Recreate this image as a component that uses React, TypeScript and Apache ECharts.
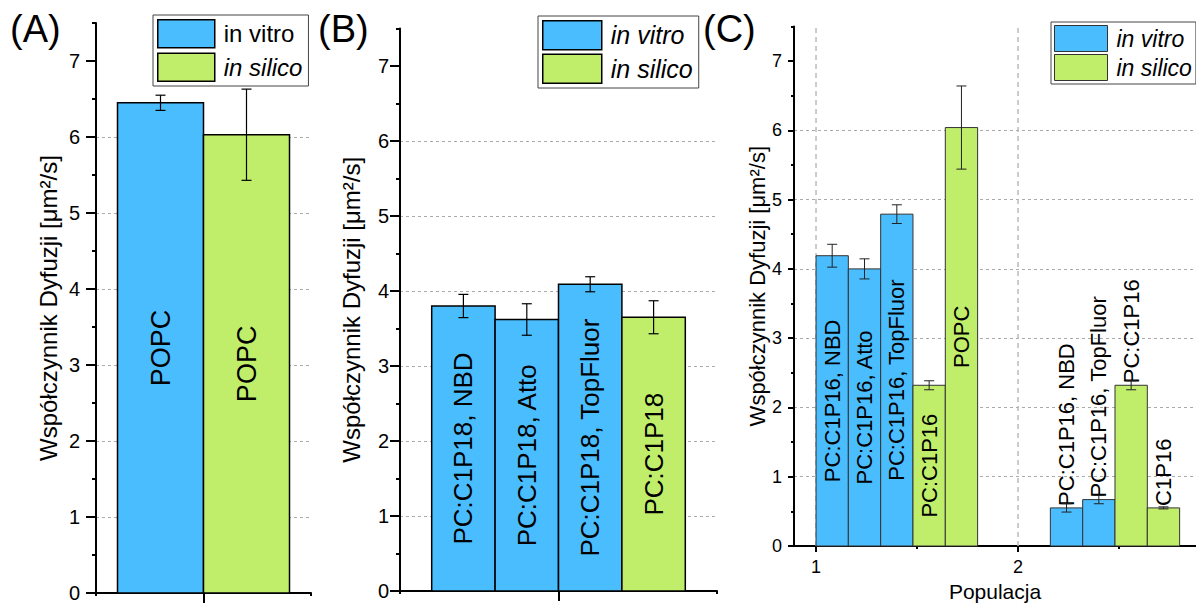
import React, { useEffect, useRef } from 'react';
import * as echarts from 'echarts';

// ---------- data ----------
const SERIES_NAMES = ['in vitro', 'in silico'];

// Panel A
const A_VITRO_X = [0.8];
const A_VITRO_VAL = [6.45];
const A_VITRO_ERR = [0.1];
const A_VITRO_LABELS = ['POPC'];
const A_SILICO_X = [1.2];
const A_SILICO_VAL = [6.03];
const A_SILICO_ERR = [0.6];
const A_SILICO_LABELS = ['POPC'];

// Panel B
const B_VITRO_X = [0.7, 0.9, 1.1];
const B_VITRO_VAL = [3.8, 3.62, 4.09];
const B_VITRO_ERR = [0.155, 0.21, 0.1];
const B_VITRO_LABELS = ['PC:C1P18, NBD', 'PC:C1P18, Atto', 'PC:C1P18, TopFluor'];
const B_SILICO_X = [1.3];
const B_SILICO_VAL = [3.65];
const B_SILICO_ERR = [0.22];
const B_SILICO_LABELS = ['PC:C1P18'];

// Panel C
const C_VITRO_X = [1.08, 1.24, 1.4, 2.24, 2.4];
const C_VITRO_VAL = [4.19, 4.0, 4.79, 0.55, 0.67];
const C_VITRO_ERR = [0.165, 0.145, 0.135, 0.06, 0.06];
const C_VITRO_LABELS = ['PC:C1P16, NBD', 'PC:C1P16, Atto', 'PC:C1P16, TopFluor', 'PC:C1P16, NBD', 'PC:C1P16, TopFluor'];
const C_SILICO_X = [1.56, 1.72, 2.56, 2.72];
const C_SILICO_VAL = [2.32, 6.04, 2.32, 0.55];
const C_SILICO_ERR = [0.065, 0.6, 0.065, 0.015];
const C_SILICO_LABELS = ['PC:C1P16', 'POPC', 'PC:C1P16', 'C1P16'];

// ticks
const Y_MAJOR = [0, 1, 2, 3, 4, 5, 6, 7];
const Y_MINOR = [0.5, 1.5, 2.5, 3.5, 4.5, 5.5, 6.5, 7.5];
const AB_X_MAJOR = [1];
const AB_X_MINOR = [0.5, 1.5];
const C_X_MAJOR = [1, 2];
const C_X_MINOR = [1.5, 2.5];
const Y_TITLE = 'Współczynnik Dyfuzji [μm²/s]';
const C_X_TITLE = 'Populacja';
const PANEL_LETTERS = ['(A)', '(B)', '(C)'];

// ---------- styles ----------
const FONT = '"Liberation Sans", Arial, Helvetica, sans-serif';
const BLUE = '#4ABDFE';
const GREEN = '#C1EE6A';
const Y_MIN = 0;
const Y_MAX = 7.5;

type BarCfg = {
  width: number;
  color: string;
  border: string;
  borderWidth: number;
  errColor: string;
  errWidth: number;
  cap: number;
  labelSize: number;
  labelAbove?: (x: number) => boolean;
};

function barSeries(name: string, axisIdx: number, xs: number[], vals: number[], errs: number[], labels: string[], cfg: BarCfg) {
  return {
    type: 'custom',
    name,
    xAxisIndex: axisIdx,
    yAxisIndex: axisIdx,
    data: xs.map((x, i) => [x, vals[i], errs[i]]),
    encode: { x: 0, y: 1 },
    itemStyle: { color: cfg.color },
    clip: false,
    z: 3,
    renderItem: (params: any, api: any) => {
      const i = params.dataIndex;
      const x = api.value(0);
      const v = api.value(1);
      const e = api.value(2);
      const tl = api.coord([x - cfg.width / 2, v]);
      const br = api.coord([x + cfg.width / 2, 0]);
      const hi = api.coord([x, v + e]);
      const lo = api.coord([x, v - e]);
      const cx = (tl[0] + br[0]) / 2;
      const above = cfg.labelAbove ? cfg.labelAbove(x) : false;
      const errStyle = { stroke: cfg.errColor, lineWidth: cfg.errWidth };
      return {
        type: 'group',
        children: [
          {
            type: 'rect',
            shape: { x: tl[0], y: tl[1], width: br[0] - tl[0], height: br[1] - tl[1] },
            style: { fill: cfg.color, stroke: cfg.border, lineWidth: cfg.borderWidth },
          },
          {
            type: 'text',
            x: cx,
            y: above ? tl[1] - 2 : (tl[1] + br[1]) / 2,
            rotation: Math.PI / 2,
            style: {
              text: labels[i],
              fontSize: cfg.labelSize,
              fontFamily: FONT,
              fill: '#000',
              align: above ? 'left' : 'center',
              verticalAlign: 'middle',
            },
          },
          { type: 'line', shape: { x1: cx, y1: hi[1], x2: cx, y2: lo[1] }, style: errStyle },
          { type: 'line', shape: { x1: cx - cfg.cap, y1: hi[1], x2: cx + cfg.cap, y2: hi[1] }, style: errStyle },
          { type: 'line', shape: { x1: cx - cfg.cap, y1: lo[1], x2: cx + cfg.cap, y2: lo[1] }, style: errStyle },
        ],
      };
    },
  };
}

function yAxes(gridIndex: number, o: { major: number; minor: number; labelSize: number; margin: number; nameSize: number; nameGap: number }) {
  return [
    {
      type: 'value',
      gridIndex,
      min: Y_MIN,
      max: Y_MAX,
      interval: 1,
      position: 'left',
      axisLine: { show: true, onZero: false, lineStyle: { color: '#000', width: 2 } },
      axisTick: { show: true, customValues: Y_MAJOR, length: o.major, lineStyle: { color: '#000', width: 2 } },
      axisLabel: { show: true, customValues: Y_MAJOR, fontSize: o.labelSize, color: '#000', fontFamily: FONT, margin: o.margin },
      splitLine: { show: true, showMinLine: false, showMaxLine: false, lineStyle: { color: '#aaa', width: 1, type: [3, 3] } },
      name: Y_TITLE,
      nameLocation: 'middle',
      nameGap: o.nameGap,
      nameTextStyle: { fontSize: o.nameSize, color: '#000', fontFamily: FONT },
    },
    {
      type: 'value',
      gridIndex,
      min: Y_MIN,
      max: Y_MAX,
      interval: 0.5,
      position: 'left',
      axisLine: { show: false },
      axisTick: { show: true, customValues: Y_MINOR, length: o.minor, lineStyle: { color: '#000', width: 2 } },
      axisLabel: { show: false },
      splitLine: { show: false },
    },
  ];
}

function xAxesAB(gridIndex: number) {
  return [
    {
      type: 'value',
      gridIndex,
      min: 0.5,
      max: 1.5,
      interval: 0.5,
      position: 'bottom',
      axisLine: { show: true, onZero: false, lineStyle: { color: '#000', width: 2 } },
      axisTick: { show: true, customValues: AB_X_MAJOR, length: 10, lineStyle: { color: '#000', width: 2 } },
      axisLabel: { show: false },
      splitLine: { show: false },
    },
    {
      type: 'value',
      gridIndex,
      min: 0.5,
      max: 1.5,
      interval: 0.5,
      position: 'bottom',
      axisLine: { show: false },
      axisTick: { show: true, customValues: AB_X_MINOR, length: 3, lineStyle: { color: '#000', width: 2 } },
      axisLabel: { show: false },
      splitLine: { show: false },
    },
  ];
}

function xAxesC(gridIndex: number) {
  const min = 0.891;
  const max = 2.881;
  return [
    {
      type: 'value',
      gridIndex,
      min,
      max,
      position: 'bottom',
      axisLine: { show: true, onZero: false, lineStyle: { color: '#000', width: 2 } },
      axisTick: { show: true, customValues: C_X_MAJOR, length: 6, lineStyle: { color: '#000', width: 2 } },
      axisLabel: { show: true, customValues: C_X_MAJOR, fontSize: 18, color: '#000', fontFamily: FONT, margin: 12 },
      splitLine: { show: false },
      name: C_X_TITLE,
      nameLocation: 'middle',
      nameGap: 34,
      nameTextStyle: { fontSize: 21, color: '#000', fontFamily: FONT },
    },
    {
      type: 'value',
      gridIndex,
      min,
      max,
      position: 'bottom',
      axisLine: { show: false },
      axisTick: { show: true, customValues: C_X_MINOR, length: 3, lineStyle: { color: '#000', width: 2 } },
      axisLabel: { show: false },
      splitLine: { show: false },
    },
  ];
}

function legend(left: number, top: number, iw: number, ih: number, gap: number, fs: number, vitroItalic: boolean, bw: number, bc: string, pad: number[]) {
  return {
    orient: 'vertical',
    left,
    top,
    itemWidth: iw,
    itemHeight: ih,
    itemGap: gap,
    icon: 'rect',
    selectedMode: false,
    borderColor: '#444',
    borderWidth: 1,
    padding: pad,
    backgroundColor: '#fff',
    itemStyle: { borderColor: bc, borderWidth: bw },
    textStyle: { fontSize: fs, fontFamily: FONT, color: '#000', fontStyle: 'italic', padding: [0, 0, 0, 4] },
    data: [
      {
        name: SERIES_NAMES[0],
        icon: 'rect',
        itemStyle: { color: BLUE, borderColor: bc, borderWidth: bw },
        textStyle: { fontStyle: vitroItalic ? 'italic' : 'normal', fontSize: fs, fontFamily: FONT, color: '#000' },
      },
      {
        name: SERIES_NAMES[1],
        icon: 'rect',
        itemStyle: { color: GREEN, borderColor: bc, borderWidth: bw },
        textStyle: { fontStyle: 'italic', fontSize: fs, fontFamily: FONT, color: '#000' },
      },
    ],
  };
}

export default function App() {
  const ref = useRef<HTMLDivElement>(null);
  useEffect(() => {
    if (!ref.current) return;
    const chart = echarts.init(ref.current, null, { renderer: 'svg' });
    const abCfg = (color: string, width: number, size: number): BarCfg => ({
      width,
      color,
      border: '#000',
      borderWidth: 1.5,
      errColor: '#000',
      errWidth: 1.2,
      cap: 5,
      labelSize: size,
    });
    const cCfg = (color: string): BarCfg => ({
      width: 0.16,
      color,
      border: '#333',
      borderWidth: 1,
      errColor: '#222',
      errWidth: 1,
      cap: 5,
      labelSize: 22,
      labelAbove: (x: number) => x >= 2,
    });

    const option: any = {
      animation: false,
      backgroundColor: '#fff',
      grid: [
        { left: 96, top: 23, width: 215, height: 570, outerBoundsMode: 'none' },
        { left: 400, top: 28.5, width: 317, height: 562.5, outerBoundsMode: 'none' },
        { left: 794, top: 26.4, width: 402, height: 519.6, outerBoundsMode: 'none' },
      ],
      xAxis: [...xAxesAB(0), ...xAxesAB(1), ...xAxesC(2)],
      yAxis: [
        ...yAxes(0, { major: 10, minor: 4, labelSize: 20, margin: 16, nameSize: 24, nameGap: 36 }),
        ...yAxes(1, { major: 10, minor: 4, labelSize: 20, margin: 11, nameSize: 24, nameGap: 37 }),
        ...yAxes(2, { major: 6, minor: 3, labelSize: 18, margin: 12, nameSize: 22, nameGap: 26 }),
      ],
      legend: [
        legend(153, 15, 57, 28, 4, 24, false, 1.5, '#000', [4, 6, 4, 4]),
        legend(538, 16, 59, 29, 3, 25, true, 1.5, '#000', [4, 6, 4, 4]),
        legend(1051, 22, 53, 26, 2, 23, true, 1, '#333', [3, 4, 3, 3]),
      ],
      graphic: [
        { type: 'text', left: 10, top: 10, style: { text: PANEL_LETTERS[0], fontSize: 38, fontFamily: FONT, fill: '#000' } },
        { type: 'text', left: 318, top: 10, style: { text: PANEL_LETTERS[1], fontSize: 38, fontFamily: FONT, fill: '#000' } },
        { type: 'text', left: 703, top: 10, style: { text: PANEL_LETTERS[2], fontSize: 38, fontFamily: FONT, fill: '#000' } },
      ],
      series: [
        {
          type: 'custom',
          name: 'grid-x',
          xAxisIndex: 4,
          yAxisIndex: 4,
          silent: true,
          z: 1,
          data: C_X_MAJOR.map((x) => [x, Y_MAX]),
          encode: { x: 0, y: 1 },
          renderItem: (p: any, api: any) => {
            const x = api.value(0);
            const a = api.coord([x, Y_MIN]);
            const b = api.coord([x, api.value(1)]);
            return {
              type: 'line',
              shape: { x1: a[0], y1: a[1], x2: b[0], y2: b[1] },
              style: { stroke: '#bbb', lineWidth: 1.5, lineDash: [5, 4] },
            };
          },
        },
        barSeries(SERIES_NAMES[0], 0, A_VITRO_X, A_VITRO_VAL, A_VITRO_ERR, A_VITRO_LABELS, abCfg(BLUE, 0.4, 27)),
        barSeries(SERIES_NAMES[1], 0, A_SILICO_X, A_SILICO_VAL, A_SILICO_ERR, A_SILICO_LABELS, abCfg(GREEN, 0.4, 27)),
        barSeries(SERIES_NAMES[0], 2, B_VITRO_X, B_VITRO_VAL, B_VITRO_ERR, B_VITRO_LABELS, abCfg(BLUE, 0.2, 26)),
        barSeries(SERIES_NAMES[1], 2, B_SILICO_X, B_SILICO_VAL, B_SILICO_ERR, B_SILICO_LABELS, abCfg(GREEN, 0.2, 26)),
        barSeries(SERIES_NAMES[0], 4, C_VITRO_X, C_VITRO_VAL, C_VITRO_ERR, C_VITRO_LABELS, cCfg(BLUE)),
        barSeries(SERIES_NAMES[1], 4, C_SILICO_X, C_SILICO_VAL, C_SILICO_ERR, C_SILICO_LABELS, cCfg(GREEN)),
      ],
    };
    chart.setOption(option);
    return () => chart.dispose();
  }, []);
  return (
    <div
      ref={ref}
      style={{ position: 'fixed', left: 0, top: 0, width: 1196, height: 605, background: '#fff' }}
    />
  );
}
